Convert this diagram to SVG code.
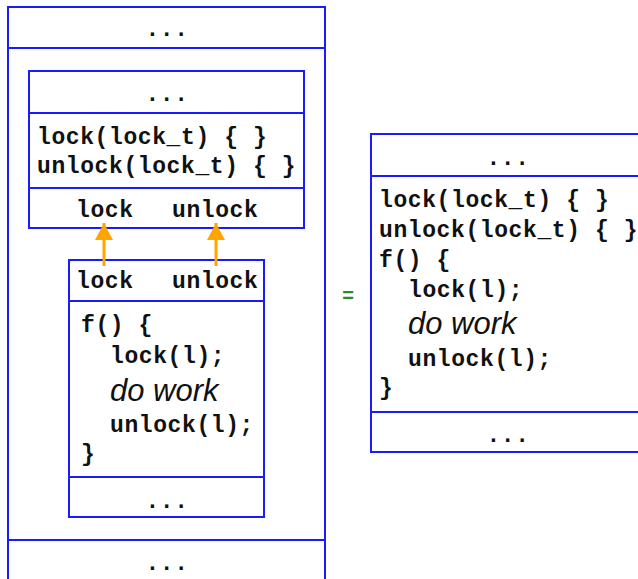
<svg xmlns="http://www.w3.org/2000/svg" width="638" height="579" viewBox="0 0 638 579">
<style>
.box{fill:#fff;stroke:#1a1aff;stroke-width:2}
.sep{stroke:#1a1aff;stroke-width:2}
.code{font-family:"Liberation Mono","Courier New",monospace;font-weight:bold;font-size:23px;fill:#111;letter-spacing:0.6px}
.mid{text-anchor:middle}
.work{font-family:"Liberation Sans",Arial,sans-serif;font-style:italic;font-size:31px;fill:#111}
.arrow{stroke:#ffa500;stroke-width:3;fill:none}
</style>
<defs>
<marker id="ah" viewBox="0 0 10 10" refX="10" refY="5" markerWidth="17" markerHeight="18" preserveAspectRatio="none" markerUnits="userSpaceOnUse" orient="auto">
<path d="M0,0 L10,5 L0,10 Z" fill="#ffa500"/>
</marker>
</defs>
<g id="outer">
<rect class="box" x="8" y="7" width="317" height="590"/>
<line class="sep" x1="8" y1="48" x2="325" y2="48"/>
<line class="sep" x1="8" y1="540" x2="325" y2="540"/>
<text class="code mid" x="167" y="36">...</text>
<text class="code mid" x="167" y="570">...</text>
</g>
<g id="lib">
<rect class="box" x="29" y="71" width="275" height="157"/>
<line class="sep" x1="29" y1="113" x2="304" y2="113"/>
<line class="sep" x1="29" y1="188" x2="304" y2="188"/>
<text class="code mid" x="167" y="101">...</text>
<text class="code" x="37" y="144">lock(lock_t) { }</text>
<text class="code" x="37" y="173">unlock(lock_t) { }</text>
<text class="code" x="76" y="217">lock</text>
<text class="code" x="172" y="217">unlock</text>
</g>
<g id="client">
<rect class="box" x="69" y="260" width="195" height="257"/>
<line class="sep" x1="69" y1="301" x2="264" y2="301"/>
<line class="sep" x1="69" y1="477" x2="264" y2="477"/>
<text class="code" x="76" y="288">lock</text>
<text class="code" x="172" y="288">unlock</text>
<text class="code" x="81" y="332">f() {</text>
<text class="code" x="110" y="363">lock(l);</text>
<text class="work" x="110" y="401">do work</text>
<text class="code" x="110" y="432">unlock(l);</text>
<text class="code" x="81" y="461">}</text>
<text class="code mid" x="167" y="508">...</text>
</g>
<g id="connectors">
<line class="arrow" x1="104" y1="266" x2="104" y2="223" marker-end="url(#ah)"/>
<line class="arrow" x1="216" y1="266" x2="216" y2="223" marker-end="url(#ah)"/>
</g>
<g id="equals">
<text x="348" y="302" font-family="Liberation Sans,Arial,sans-serif" font-weight="bold" font-size="20" fill="#2a8f2a" text-anchor="middle">=</text>
</g>
<g id="merged">
<rect class="box" x="371" y="134" width="280" height="318"/>
<line class="sep" x1="371" y1="176" x2="651" y2="176"/>
<line class="sep" x1="371" y1="412" x2="651" y2="412"/>
<text class="code mid" x="508" y="165">...</text>
<text class="code" x="379" y="207">lock(lock_t) { }</text>
<text class="code" x="379" y="237">unlock(lock_t) { }</text>
<text class="code" x="379" y="267">f() {</text>
<text class="code" x="408" y="297">lock(l);</text>
<text class="work" x="408" y="334">do work</text>
<text class="code" x="408" y="366">unlock(l);</text>
<text class="code" x="379" y="395">}</text>
<text class="code mid" x="508" y="442">...</text>
</g>
</svg>
